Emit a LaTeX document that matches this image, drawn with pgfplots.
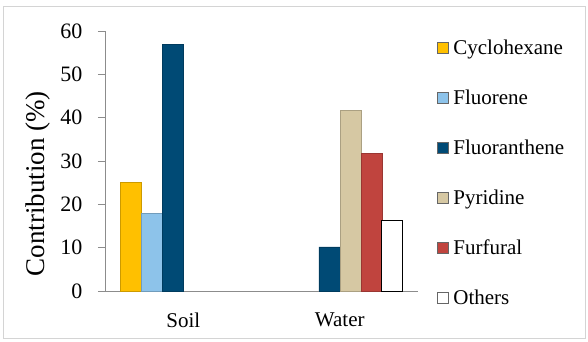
\documentclass[border=0pt]{standalone}
\usepackage{pgfplots}
\pgfplotsset{compat=1.18}
\usepackage{fontspec}
\setmainfont{Liberation Serif}
\definecolor{cyc}{HTML}{FFC000}
\definecolor{flu}{HTML}{8DC3EA}
\definecolor{fla}{HTML}{004A75}
\definecolor{pyr}{HTML}{D6C8A3}
\definecolor{fur}{HTML}{C0443E}
\definecolor{axg}{HTML}{8C8C8C}
\definecolor{frm}{HTML}{D4D4D4}
\begin{document}
\begin{tikzpicture}
\begin{axis}[
  scale only axis, width=313bp, height=260bp,
  ybar=0pt, bar width=21bp,
  xmin=-0.5, xmax=1.5, ymin=0, ymax=60,
  xtick={0,1}, xticklabels={Soil,Water},
  ytick={0,10,...,60},
  axis lines*=left,
  axis line style={draw=axg, line width=0.8bp},
  tick align=outside, major tick length=7bp,
  tick style={draw=axg, line width=0.8bp},
  x tick style={draw=none},
  extra x ticks={-0.5,0.5,1.5}, extra x tick labels={},
  extra x tick style={tick style={draw=axg, line width=0.8bp}},
  /pgf/number format/assume math mode=true,
  yticklabel style={font=\fontsize{22bp}{24bp}\selectfont, xshift=-12bp},
  xticklabel style={font=\fontsize{21bp}{23bp}\selectfont, yshift=-11bp},
  ylabel={Contribution (\%)},
  every axis y label/.style={at={(rel axis cs:-0.214,0.413)}, rotate=90, anchor=center,
    font=\fontsize{27bp}{29bp}\selectfont},
  legend style={draw=none, fill=none, at={(1.06,0.975)}, anchor=north west,
    font=\fontsize{21bp}{23bp}\selectfont, row sep=30bp, inner sep=0pt,
    /tikz/every odd column/.append style={column sep=3bp}},
  legend cell align=left,
  legend image code/.code={\draw[#1, draw=black!60, line width=0.4bp] (0bp,-5.5bp) rectangle (11bp,5.5bp);},
]
\addplot[fill=cyc, draw=cyc!80!black, line width=0.4bp] coordinates {(0,25)};
\addplot[fill=flu, draw=flu!80!black, line width=0.4bp] coordinates {(0,18)};
\addplot[fill=fla, draw=fla!80!black, line width=0.4bp] coordinates {(0,57) (1,10.2)};
\addplot[fill=pyr, draw=pyr!80!black, line width=0.4bp] coordinates {(1,41.7)};
\addplot[fill=fur, draw=fur!80!black, line width=0.4bp] coordinates {(1,31.7)};
\addplot[fill=white, draw=black, line width=0.8bp] coordinates {(1,16.3)};
\legend{Cyclohexane,Fluorene,Fluoranthene,Pyridine,Furfural,Others}
\end{axis}
\draw[frm, line width=1bp] (-101bp,-47bp) rectangle (480bp,284bp);
\path (-105bp,-51bp) rectangle (483bp,291bp);
\end{tikzpicture}
\end{document}
